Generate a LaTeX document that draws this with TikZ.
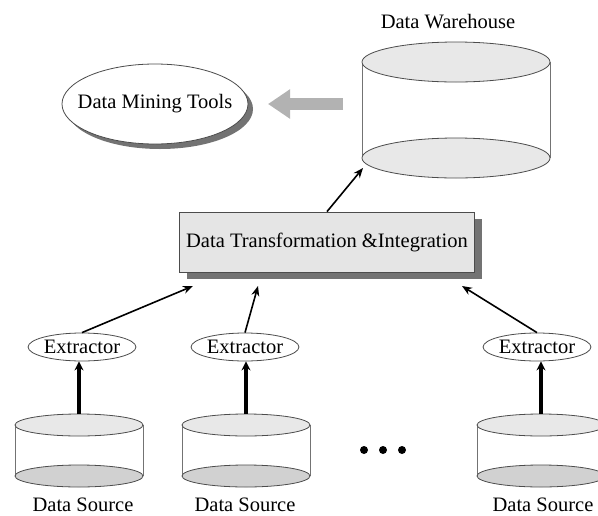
\documentclass[tikz,border=0pt]{standalone}
\usepackage{fontspec}
\setmainfont{Liberation Serif}
\usetikzlibrary{shapes.geometric,arrows.meta,shadows}

\tikzset{
  txt/.style={font=\fontsize{20.5}{24}\selectfont},
  extr/.style={ellipse, draw=black!70, line width=0.8pt, fill=white,
    minimum width=106pt, minimum height=28pt, inner sep=0pt, txt},
  link/.style={-{Stealth[length=10pt,width=8pt]}, line width=1.6pt},
  feed/.style={-{Stealth[length=9pt,width=9pt]}, line width=4pt},
  dbtop/.style={draw=black!70, line width=0.8pt, fill=black!9},
  dbbot/.style={draw=black!70, line width=0.8pt, fill=black!18}
}

% x, y top, y bottom, x radius, y radius, bottom fill
\newcommand{\dbdrum}[6]{%
  \fill[white] (#1-#4,#2) rectangle (#1+#4,#3);
  \draw[black!55, line width=0.7pt] (#1-#4,#2) -- (#1-#4,#3) (#1+#4,#2) -- (#1+#4,#3);
  \draw[dbbot, fill=#6] (#1,#3) ellipse [x radius=#4, y radius=#5];
  \draw[dbtop] (#1,#2) ellipse [x radius=#4, y radius=#5];
}

\begin{document}
\begin{tikzpicture}[x=1pt,y=-1pt]
\useasboundingbox (0,0) rectangle (598,515);

% warehouse
\dbdrum{456}{62}{158}{94}{20}{black!9}
\node[txt] (whlabel) at (448,22) {Data Warehouse};
\coordinate (wh) at (363,168);

% mining tools
\node[ellipse, draw=black!70, line width=0.8pt, fill=white,
  minimum width=186pt, minimum height=80pt, inner sep=0pt,
  drop shadow={shadow xshift=5pt, shadow yshift=-5pt, fill=black!55, opacity=1}]
  (mine) at (155,104) {};
\node[txt] (minelabel) at (mine) {Data Mining Tools};
\coordinate (grtail) at (343,104);
\coordinate (grtip) at (268,104);
\draw[line width=12pt, black!30, -{Triangle[length=22pt,width=28pt]}] (grtail) -- (grtip);

% transformation
\node[draw=black!70, line width=0.8pt, fill=black!10, txt,
  minimum width=295pt, minimum height=60pt,
  drop shadow={shadow xshift=7pt, shadow yshift=-7pt, fill=black!55, opacity=1}]
  (trans) at (327,242) {Data Transformation \&Integration};
\draw[link] (trans.north) -- (wh);

\coordinate (t1) at (193,286);
\coordinate (t2) at (258,286);
\coordinate (t3) at (462,286);

% sources and extractors
\foreach \i/\x/\s in {1/79/83,2/246/245,3/541/543} {
  \dbdrum{\x}{425}{476}{64}{11}{black!18}
  \coordinate (ds\i) at (\x,414);
  \node[txt] (dsl\i) at (\s,505) {Data Source};
}
\foreach \i/\x in {1/82,2/245,3/537} {
  \node[extr] (ex\i) at (\x,347) {Extractor};
  \draw[link] (ex\i.north) -- (t\i);
  \draw[feed] (ds\i) -- (ds\i |- ex\i.south);
}

\foreach \x in {364,383,402}
  \fill (\x,450) circle (4);
\end{tikzpicture}
\end{document}
